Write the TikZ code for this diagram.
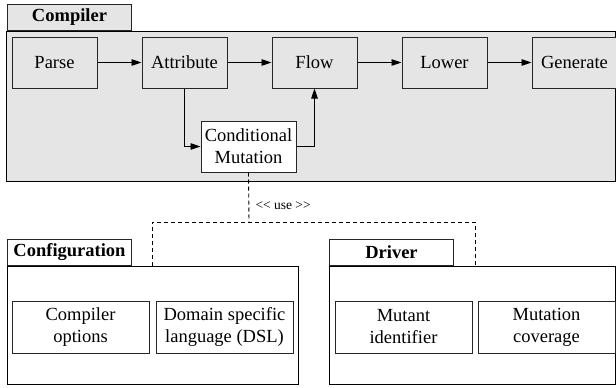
\documentclass[tikz,border=0pt]{standalone}
\usepackage{fontspec}
\setmainfont{Liberation Serif}
\usetikzlibrary{arrows.meta,chains,positioning}
\definecolor{pkgfill}{HTML}{E5E5E5}
\tikzset{%
  StepBox/.style={draw=black!85,fill=pkgfill,minimum width=85pt,minimum height=51pt,
    inner sep=1pt,align=center,font=\fontsize{18.5}{22}\selectfont},
  PartBox/.style={draw=black!85,minimum width=137pt,minimum height=52pt,
    inner sep=1pt,align=center,font=\fontsize{18.5}{22}\selectfont},
  TabBox/.style={draw=black!85,minimum width=124pt,minimum height=26pt,inner sep=0pt,
    anchor=south west,font=\bfseries\fontsize{18.5}{21}\selectfont},
  FlowArrow/.style={-{Triangle[length=10pt,width=6.5pt]},line width=0.9pt},
  UseLine/.style={line width=0.9pt,dash pattern=on 4pt off 3pt}
}

\begin{document}
\begin{tikzpicture}[x=1pt,y=-1pt,line width=1pt]
  \useasboundingbox (0,0) rectangle (616,388);
  % packages
  \draw[fill=pkgfill] (6,31) rectangle (615,181);
  \node[TabBox,fill=pkgfill] (compilertab) at (7,31) {Compiler};
  \draw (7,266) rectangle (298,384);
  \node[TabBox] (configtab) at (7,266) {Configuration};
  \draw (329,266) rectangle (615,384);
  \node[TabBox] (drivertab) at (329,266) {Driver};

  % compiler phases
  \begin{scope}[start chain=going right, node distance=44pt]
    \node[StepBox,on chain] (parse) at (54.5,62.5) {Parse};
    \foreach \name/\label in {attr/Attribute,flow/Flow,lower/Lower,gen/Generate}
      { \node[StepBox,on chain] (\name) {\label}; }
  \end{scope}
  \node[StepBox,fill=white,minimum width=95pt] (condmut) at (248.5,146.5) {Conditional\\Mutation};

  \draw[FlowArrow] (parse) -- (attr);
  \draw[FlowArrow] (attr) -- (flow);
  \draw[FlowArrow] (flow) -- (lower);
  \draw[FlowArrow] (lower) -- (gen);
  \draw[FlowArrow] (attr.south) |- (condmut.west);
  \draw[FlowArrow] (condmut.east) -| (flow.south);

  % configuration and driver parts
  \node[PartBox] (copts) at (80.5,327) {Compiler\\options};
  \node[PartBox,right=6pt of copts] (dsl) {Domain specific\\language (DSL)};
  \node[PartBox] (mutid) at (403.5,327) {Mutant\\identifier};
  \node[PartBox,right=5pt of mutid] (mutcov) {Mutation\\coverage};

  % use dependency
  \coordinate (usejoin) at (249,222);
  \coordinate (configuse) at (152,266);
  \coordinate (driveruse) at (475,266);
  \draw[UseLine] (condmut.south) -- (usejoin);
  \draw[UseLine] (configuse) |- (driveruse |- usejoin) -- (driveruse);
  \node[anchor=west, inner sep=0pt, font=\fontsize{13.5}{15}\selectfont]
    (uselabel) at (255,206) {{<}{<} use {>}{>}};
\end{tikzpicture}
\end{document}
